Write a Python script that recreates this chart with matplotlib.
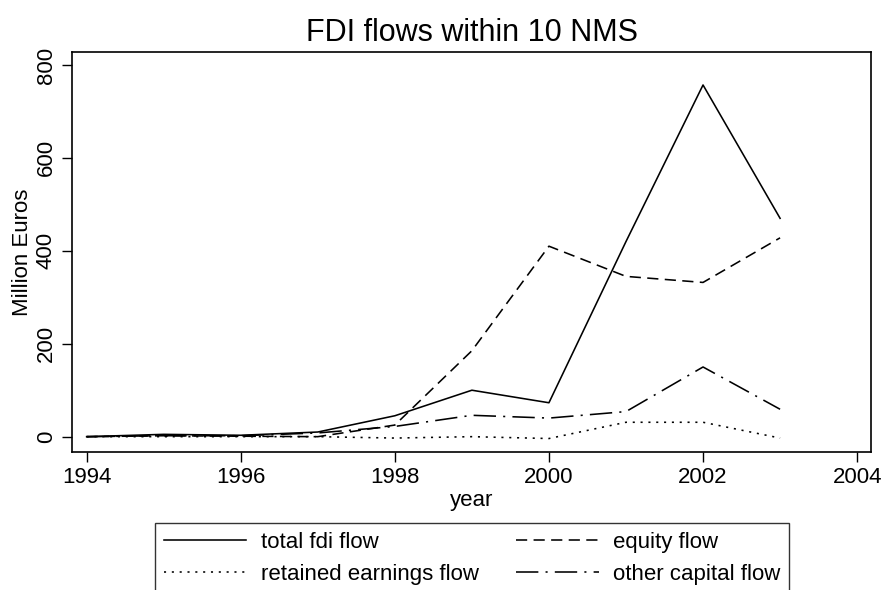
import matplotlib
matplotlib.use("Agg")
import matplotlib.pyplot as plt

plt.rcParams['font.family'] = ['Liberation Sans', 'DejaVu Sans']

# data (million euros)
years = [1994, 1995, 1996, 1997, 1998, 1999, 2000, 2001, 2002, 2003]
total_fdi = [0, 5, 3, 10, 45, 100, 73, 420, 757, 470]
equity = [0, 2, 1, 0, 25, 185, 410, 345, 332, 428]
retained = [0, 0, 0, 0, -3, 0, -4, 31, 31, -3]
other_cap = [0, 2, 2, 8, 22, 46, 40, 54, 150, 59]

xticks = [1994, 1996, 1998, 2000, 2002, 2004]
yticks = [0, 200, 400, 600, 800]

fig = plt.figure(figsize=(8.83, 5.90), dpi=100)
ax = fig.add_axes([72/883, 1-452/590, (871-72)/883, (452-52)/590])

lw = 1.15
l1, = ax.plot(years, total_fdi, color='black', lw=lw, linestyle='-', label='total fdi flow')
l2, = ax.plot(years, equity, color='black', lw=lw, linestyle=(0, (7, 4)), label='equity flow')
l3, = ax.plot(years, retained, color='black', lw=lw, linestyle=(0, (1.3, 3.6)), label='retained earnings flow')
l4, = ax.plot(years, other_cap, color='black', lw=lw, linestyle=(0, (14, 4.5, 1.3, 4.5)), label='other capital flow')

ax.set_xlim(1993.81, 2004.18)
ax.set_ylim(-33, 828)
ax.set_xticks(xticks)
ax.set_yticks(yticks)
ax.set_yticklabels([str(v) for v in yticks], rotation=90, va='center')
ax.tick_params(labelsize=16, length=7, width=1, colors='black', pad=4)

for s in ax.spines.values():
    s.set_linewidth(1.2)

ax.set_title('FDI flows within 10 NMS', fontsize=22, pad=8)
ax.set_xlabel('year', fontsize=16, labelpad=1)
ax.set_ylabel('Million Euros', fontsize=16, labelpad=2)

# legend below the plot, rows: total/equity, retained/other; cut off at the bottom
handles = [l1, l3, l2, l4]
leg = fig.legend(handles, [h.get_label() for h in handles],
                 loc='upper left', bbox_to_anchor=(155/883, 1-523/590), ncol=2,
                 fontsize=16, frameon=True, fancybox=False, edgecolor='black',
                 handlelength=3.7, handletextpad=0.65, columnspacing=1.7,
                 labelspacing=0.5, borderpad=0.4, borderaxespad=0)
leg.get_frame().set_linewidth(1.0)

fig.savefig('out.png', dpi=100)
